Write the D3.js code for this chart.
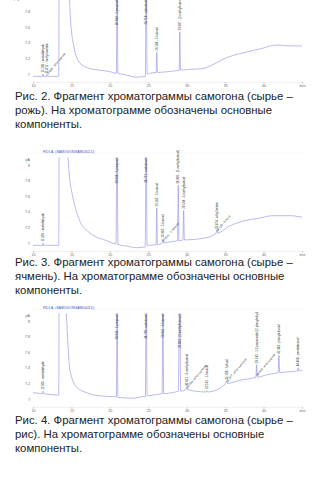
<!DOCTYPE html>
<html>
<head>
<meta charset="utf-8">
<script src="https://cdn.jsdelivr.net/npm/d3@7"></script>
<style>
  html, body { margin: 0; padding: 0; background: #fff; }
  svg { display: block; }
</style>
</head>
<body>
<div id="page"></div>
<script>
// retention time ticks (min) and signal ticks (pA)
const xTicks = [10, 15, 20, 25, 30, 35, 40, 45];
const yTicks = [7, 7.2, 7.4, 7.6, 7.8, 8];

// Рис. 2 — rye
const ryeSignal = [
  [10, 6.97], [11.25, 6.97], [11.3, 7.0], [11.4, 6.97], [11.75, 6.97], [11.8, 6.99], [11.9, 6.97],
  [13.35, 6.97], [13.4, 8.4], [14.6, 8.4], [14.8, 7.85], [15.2, 7.41], [16.1, 7.14], [17.4, 7.07],
  [18.6, 7.05], [20.0, 7.03], [20.85, 7.01], [20.93, 8.5], [21.05, 7.01], [22.0, 6.99], [23.5, 6.96],
  [24.62, 6.97], [24.72, 8.5], [24.85, 7.0], [25.2, 7.01], [26.02, 7.02], [26.1, 7.28], [26.2, 7.02],
  [27.5, 7.03], [29.02, 7.05], [29.1, 7.54], [29.2, 7.05], [30.5, 7.06], [32.1, 7.07], [33.4, 7.12],
  [35.2, 7.21], [36.9, 7.26], [39.9, 7.33], [41.5, 7.37], [42.2, 7.37], [43.0, 7.36], [45, 7.36]
];
const ryePeaks = [
  { t: 11.3, text: "11.296 - acetaldehyde" },
  { t: 11.8, text: "11.812 - methyl acetate" },
  { t: 11.9, text: "12.035 - ethyl acetate", diag: true },
  { t: 12.2, text: "12.348 - methanol", diag: true },
  { t: 12.5, text: "12.671 - 2-propanol", diag: true },
  { t: 20.93, text: "20.934 - 1-propanol" },
  { t: 24.72, text: "24.718 - isobutanol" },
  { t: 26.1, text: "26.104 - 1-butanol" },
  { t: 29.1, text: "29.097 - (2-methylbutanol)" }
];
const ryeCaption = [
  "Рис. 2. Фрагмент хроматограммы самогона (сырье –",
  "рожь). На хроматограмме обозначены основные",
  "компоненты."
];

// Рис. 3 — barley
const barleySignal = [
  [10, 6.97], [11.25, 6.97], [11.3, 7.0], [11.4, 6.97], [13.35, 6.97], [13.4, 8.3], [14.3, 8.3],
  [14.8, 7.8], [15.2, 7.58], [16.1, 7.28], [17.4, 7.13], [19.6, 7.03], [20.8, 6.99], [20.93, 8.5],
  [21.05, 6.98], [22.2, 6.96], [23.5, 6.94], [24.6, 6.95], [24.72, 8.5], [24.85, 6.97], [25.2, 6.97],
  [26.0, 6.98], [26.1, 7.45], [26.2, 6.98], [26.8, 7.0], [26.9, 7.05], [27.0, 7.0], [27.5, 7.01],
  [28.8, 7.03], [28.9, 7.74], [29.0, 7.03], [29.5, 7.04], [29.6, 7.42], [29.7, 7.04], [32.1, 7.06],
  [33.8, 7.12], [33.9, 7.16], [34.0, 7.13], [35.6, 7.22], [37.3, 7.28], [39.5, 7.32], [41.2, 7.35],
  [43.4, 7.35], [45, 7.33]
];
const barleyPeaks = [
  { t: 11.3, text: "11.301 - acetaldehyde" },
  { t: 11.7, text: "11.977 - methyl acetate" },
  { t: 12.1, text: "12.346 - methanol", diag: true },
  { t: 13.9, text: "13.862" },
  { t: 20.93, text: "20.936 - 1-propanol" },
  { t: 24.72, text: "24.721 - isobutanol" },
  { t: 26.1, text: "26.102 - 1-butanol" },
  { t: 26.9, text: "26.903 - 2-butanol" },
  { t: 27.0, text: "27.015 - 1-hexanol", diag: true },
  { t: 28.9, text: "28.906 - (2-methylbutanol)" },
  { t: 29.6, text: "29.594 - 3-methylbutanol" },
  { t: 33.9, text: "33.874 - ethyl lactate" },
  { t: 34.0, text: "34.120 - furfural", diag: true }
];
const barleyCaption = [
  "Рис. 3. Фрагмент хроматограммы самогона (сырье –",
  "ячмень). На хроматограмме обозначены основные",
  "компоненты."
];

// Рис. 4 — rice
const riceSignal = [
  [10, 7.08], [11.25, 7.07], [11.3, 7.1], [11.4, 7.07], [13.35, 7.05], [13.4, 8.3], [14.1, 8.3],
  [14.8, 7.37], [15.7, 7.15], [17.0, 7.08], [18.7, 7.04], [20.7, 7.03], [20.85, 7.03], [20.93, 8.5],
  [21.05, 7.02], [23.0, 7.01], [24.3, 7.03], [24.62, 7.03], [24.72, 8.5], [24.85, 7.04], [25.6, 7.05],
  [26.8, 7.07], [26.9, 8.5], [27.0, 7.07], [28.9, 7.1], [29.1, 8.5], [29.2, 7.1], [29.9, 7.12],
  [30.0, 7.15], [30.1, 7.12], [32.5, 7.09], [32.6, 7.11], [32.7, 7.09], [35.1, 7.2], [35.2, 7.23],
  [35.3, 7.2], [36.9, 7.24], [39.0, 7.28], [39.1, 7.44], [39.2, 7.28], [40.4, 7.31], [41.9, 7.34],
  [42.0, 7.56], [42.1, 7.34], [43.4, 7.35], [44.4, 7.36], [44.5, 7.4], [44.6, 7.36], [45, 7.37]
];
const ricePeaks = [
  { t: 11.3, text: "11.305 - acetaldehyde" },
  { t: 11.9, text: "11.990 - methanol", diag: true },
  { t: 13.9, text: "13.868" },
  { t: 20.93, text: "20.933 - 1-propanol" },
  { t: 24.72, text: "24.720 - isobutanol" },
  { t: 26.9, text: "26.915 - 1-butanol" },
  { t: 29.1, text: "29.093 - (2-methylbutanol)" },
  { t: 30.0, text: "30.021 - 3-methylbutanol" },
  { t: 30.1, text: "30.254 - ethyl caproate", diag: true },
  { t: 32.6, text: "32.591 - 1-hexanol" },
  { t: 35.2, text: "35.198 - furfural" },
  { t: 35.3, text: "35.377 - ethyl caprylate", diag: true },
  { t: 39.1, text: "39.142 - 1,3-propanediol (2-phenylethyl)" },
  { t: 39.2, text: "39.410 - ethyl caprate", diag: true },
  { t: 42.0, text: "41.983 - phenylethanol" },
  { t: 44.5, text: "44.468 - pentadecanol" }
];
const riceCaption = [
  "Рис. 4. Фрагмент хроматограммы самогона (сырье –",
  "рис). На хроматограмме обозначены основные",
  "компоненты."
];

const panels = [
  { signal: ryeSignal, peaks: ryePeaks, caption: ryeCaption, y7: 74, captionY: 100, title: null },
  { signal: barleySignal, peaks: barleyPeaks, caption: barleyCaption, y7: 243, captionY: 266, title: "FID1 A, (SAMOGON\\SAM0302.D)" },
  { signal: riceSignal, peaks: ricePeaks, caption: riceCaption, y7: 399, captionY: 424, title: "FID1 A, (SAMOGON\\SAM0403.D)" }
];

const width = 320, height = 480;
const pxPerPa = 78;
const captionWidth = 278;

const svg = d3.select("#page")
  .append("svg")
  .attr("width", width)
  .attr("height", height)
  .style("font-family", "'Liberation Sans', Arial, sans-serif");

svg.append("rect")
  .attr("width", width)
  .attr("height", height)
  .attr("fill", "white");

const x = d3.scaleLinear()
  .domain([10, 45])
  .range([33, 302]);

// size caption font so the first line spans the same width as in the figure
const probe = svg.append("text")
  .style("font-size", "13px")
  .text(ryeCaption[0]);
const captionSize = 13 * captionWidth / probe.node().getComputedTextLength();
probe.remove();

panels.forEach((p, i) => {
  const y = d3.scaleLinear()
    .domain([6.9, 8.1])
    .range([p.y7 + 0.1 * pxPerPa, p.y7 - 1.1 * pxPerPa]);
  const top = y(8.1), bottom = y(6.9);
  const g = svg.append("g");

  // x axis
  const xAxis = d3.axisBottom(x)
    .tickValues(xTicks)
    .tickSize(2)
    .tickPadding(1)
    .tickFormat(d => d === 45 ? "min" : d);
  const gx = g.append("g")
    .attr("transform", `translate(0,${bottom})`)
    .call(xAxis);
  gx.select(".domain").attr("stroke", "#dcdcdc").attr("stroke-width", 0.5);
  gx.selectAll(".tick line").attr("stroke", "#aaa").attr("stroke-width", 0.5);
  gx.selectAll(".tick text").attr("fill", "#666").style("font-size", "3.6px");

  // y axis
  const yAxis = d3.axisLeft(y)
    .tickValues(yTicks)
    .tickSize(0)
    .tickPadding(3)
    .tickFormat(d3.format("~g"));
  const gy = g.append("g")
    .attr("transform", `translate(33,0)`)
    .call(yAxis);
  gy.select(".domain").remove();
  gy.selectAll(".tick text").attr("fill", "#666").style("font-size", "3.6px");
  gy.append("text")
    .attr("x", -3)
    .attr("y", y(8) - 4)
    .attr("text-anchor", "end")
    .attr("fill", "#666")
    .style("font-size", "3.6px")
    .text("pA");

  // faint top frame and signal title
  if (p.title) {
    g.append("line")
      .attr("x1", 33).attr("x2", 305)
      .attr("y1", top - 4).attr("y2", top - 4)
      .attr("stroke", "#eee")
      .attr("stroke-width", 0.5);
    g.append("text")
      .attr("x", 43)
      .attr("y", top - 4)
      .attr("fill", "#4a4ad0")
      .style("font-size", "3.4px")
      .text(p.title);
  }

  // signal
  g.append("clipPath")
    .attr("id", "clip" + i)
    .append("rect")
    .attr("x", 30)
    .attr("y", top)
    .attr("width", 280)
    .attr("height", bottom - top);

  const line = d3.line()
    .x(d => x(d[0]))
    .y(d => y(d[1]))
    .curve(d3.curveMonotoneX);

  g.append("path")
    .datum(p.signal)
    .attr("clip-path", `url(#clip${i})`)
    .attr("fill", "none")
    .attr("stroke", "#8c8ce8")
    .attr("stroke-width", 0.6)
    .attr("d", line);

  // peak labels
  const labelTop = Math.max(top, -1) + 1;
  p.peaks.forEach(pk => {
    const near = p.signal.filter(d => Math.abs(d[0] - pk.t) <= 0.15);
    const apex = d3.max(near, d => d[1]);
    const px = x(pk.t);
    let ay = y(apex);
    const t = g.append("text")
      .attr("fill", "#333")
      .style("font-size", "2.9px")
      .text(pk.text);
    if (pk.diag) {
      ay = y(d3.min(near, d => d[1]));
      t.attr("text-anchor", "start")
        .attr("transform", `translate(${px},${ay - 1}) rotate(-50)`);
    } else if (ay <= labelTop + 2) {
      t.attr("text-anchor", "end")
        .attr("transform", `translate(${px + 1.1},${labelTop}) rotate(-90)`);
    } else {
      t.attr("text-anchor", "start")
        .attr("transform", `translate(${px + 1.1},${ay - 1.5}) rotate(-90)`);
    }
  });

  // caption
  svg.append("text")
    .attr("x", 15)
    .attr("y", p.captionY)
    .attr("fill", "#222")
    .style("font-size", captionSize + "px")
    .selectAll("tspan")
    .data(p.caption)
    .join("tspan")
    .attr("x", 15)
    .attr("dy", (d, j) => j === 0 ? 0 : 14)
    .text(d => d);
});
</script>
</body>
</html>
